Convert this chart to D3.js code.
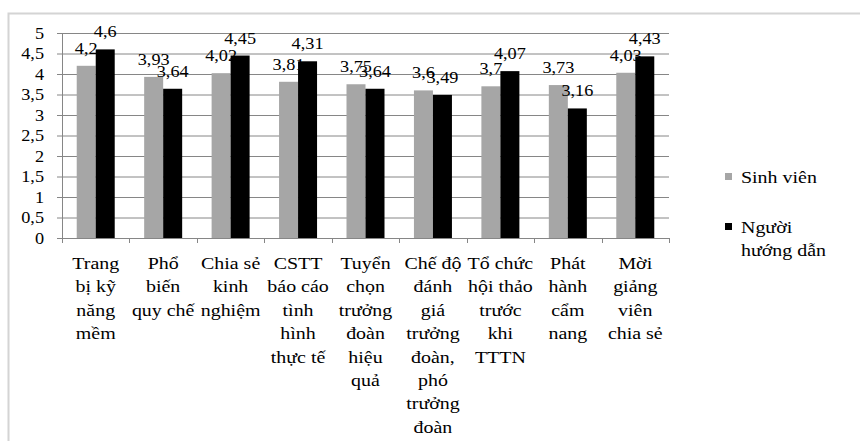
<!DOCTYPE html>
<html>
<head>
<meta charset="utf-8">
<script src="https://cdn.jsdelivr.net/npm/d3@7"></script>
<style>
  html, body { margin: 0; padding: 0; background: #fff; }
  svg { display: block; }
  svg text { font-family: 'Liberation Serif', 'Times New Roman', Tinos, 'DejaVu Serif', serif !important; fill: #000; }
</style>
</head>
<body>
<svg id="chart" width="860" height="441" font-family="Liberation Serif"></svg>
<script>
// Category labels, already broken into lines as they are shown under the axis
const categories = [
  ["Trang", "bị kỹ", "năng", "mềm"],
  ["Phổ", "biến", "quy chế"],
  ["Chia sẻ", "kinh", "nghiệm"],
  ["CSTT", "báo cáo", "tình", "hình", "thực tế"],
  ["Tuyển", "chọn", "trưởng", "đoàn", "hiệu", "quả"],
  ["Chế độ", "đánh", "giá", "trưởng", "đoàn,", "phó", "trưởng", "đoàn"],
  ["Tổ chức", "hội thảo", "trước", "khi", "TTTN"],
  ["Phát", "hành", "cẩm", "nang"],
  ["Mời", "giảng", "viên", "chia sẻ"]
];
const seriesNames = ["Sinh viên", "Người hướng dẫn"];
const sinhVien = [4.2, 3.93, 4.02, 3.81, 3.75, 3.6, 3.7, 3.73, 4.03];
const nguoiHuongDan = [4.6, 3.64, 4.45, 4.31, 3.64, 3.49, 4.07, 3.16, 4.43];
const yTicks = [0, 0.5, 1, 1.5, 2, 2.5, 3, 3.5, 4, 4.5, 5];
const seriesColors = ["#a6a6a6", "#000000"];

const FONT = "'Liberation Serif', 'Times New Roman', Tinos, 'DejaVu Serif', serif";
const svg = d3.select("#chart");
const SX = 1.14; // horizontal stretch applied to every text run

const fmt = v => String(v).replace(".", ",");
const keys = categories.map((c, i) => "c" + i);
const values = [sinhVien, nguoiHuongDan];

// outer frame of the chart area
svg.append("rect")
  .attr("x", 8.5).attr("y", 13.5)
  .attr("width", 900).attr("height", 500)
  .attr("fill", "#fff")
  .attr("stroke", "#d4d4d4")
  .attr("stroke-width", 2);

const plot = { left: 62, right: 669, top: 33, bottom: 238 };

const x = d3.scaleBand().domain(keys).range([plot.left, plot.right]).padding(0);
const xs = d3.scaleBand().domain([0, 1]).range([0, x.bandwidth()])
  .paddingInner(0).paddingOuter(0.775);
const y = d3.scaleLinear().domain([0, 5]).range([plot.bottom, plot.top]);

// horizontal gridlines + small ticks left of the axis
const grid = svg.append("g").attr("transform", `translate(${plot.left},0)`)
  .call(d3.axisLeft(y).tickValues(yTicks).tickSize(5).tickPadding(13).tickFormat(fmt));
grid.attr("font-family", FONT).attr("font-size", 16);
grid.select(".domain").remove();
grid.selectAll(".tick line").attr("stroke", "#868686");
grid.selectAll(".tick").append("line")
  .attr("x1", 0).attr("x2", plot.right - plot.left)
  .attr("stroke", "#868686");
grid.selectAll(".tick text")
  .style("font-family", FONT)
  .each(function () {
    const t = d3.select(this);
    const tx = +t.attr("x");
    t.attr("x", null)
      .attr("transform", `translate(${tx},0) scale(${SX},1)`);
  });

// bars
const groups = svg.append("g").selectAll("g").data(keys).join("g")
  .attr("transform", k => `translate(${x(k)},0)`);
groups.each(function (k, i) {
  const g = d3.select(this);
  values.forEach((vals, s) => {
    const v = vals[i];
    g.append("rect")
      .attr("x", xs(s)).attr("width", xs.bandwidth())
      .attr("y", y(v)).attr("height", y(0) - y(v))
      .attr("fill", seriesColors[s]);
  });
});

// value labels above bars
groups.each(function (k, i) {
  const g = d3.select(this);
  values.forEach((vals, s) => {
    const v = vals[i];
    g.append("text")
      .attr("transform", `translate(${xs(s) + xs.bandwidth() / 2},${y(v) - 12}) scale(${SX},1)`)
      .attr("text-anchor", "middle")
      .style("font-family", FONT)
      .attr("font-size", 16)
      .text(fmt(v));
  });
});

// axes lines
svg.append("line")
  .attr("x1", plot.left + 0.5).attr("x2", plot.left + 0.5)
  .attr("y1", plot.top).attr("y2", plot.bottom)
  .attr("stroke", "#868686");
svg.append("line")
  .attr("x1", plot.left).attr("x2", plot.right)
  .attr("y1", plot.bottom + 0.5).attr("y2", plot.bottom + 0.5)
  .attr("stroke", "#868686");
const bounds = keys.map(k => x(k)).concat([x(keys[keys.length - 1]) + x.bandwidth()]);
svg.append("g").selectAll("line").data(bounds).join("line")
  .attr("x1", d => Math.round(d) + 0.5).attr("x2", d => Math.round(d) + 0.5)
  .attr("y1", plot.bottom).attr("y2", plot.bottom + 5)
  .attr("stroke", "#868686");

// category labels
const lineH = 23.4;
svg.append("g").selectAll("text").data(categories).join("text")
  .attr("transform", (d, i) => `translate(${x(keys[i]) + x.bandwidth() / 2},269) scale(${SX},1)`)
  .attr("text-anchor", "middle")
  .style("font-family", FONT)
  .attr("font-size", 17.5)
  .each(function (lines) {
    const t = d3.select(this);
    lines.forEach((ln, j) => {
      t.append("tspan").attr("x", 0).attr("y", j * lineH).text(ln);
    });
  });

// legend
const legendRows = [
  { name: seriesNames[0], lines: ["Sinh viên"], y: 173 },
  { name: seriesNames[1], lines: ["Người", "hướng dẫn"], y: 223 }
];
const lg = svg.append("g");
legendRows.forEach((r, s) => {
  lg.append("rect")
    .attr("x", 725).attr("y", r.y).attr("width", 7).attr("height", 7)
    .attr("fill", seriesColors[s]);
  const t = lg.append("text")
    .attr("transform", `translate(741,${r.y + 10}) scale(${SX},1)`)
    .style("font-family", FONT)
    .attr("font-size", 17.5);
  r.lines.forEach((ln, j) => {
    t.append("tspan").attr("x", 0).attr("y", j * 23).text(ln);
  });
});
</script>
</body>
</html>
